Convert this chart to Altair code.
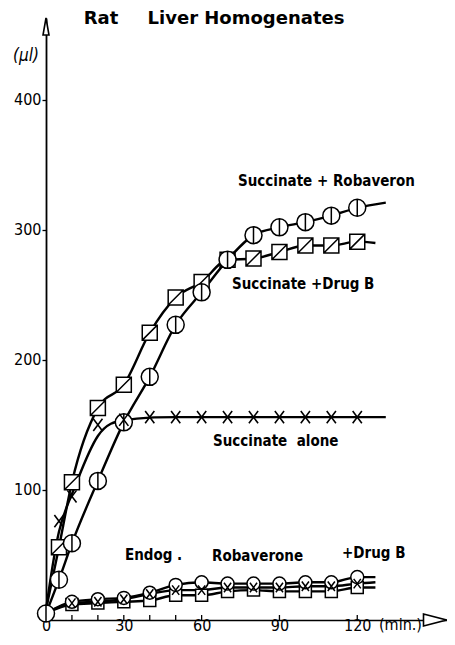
import altair as alt
import pandas as pd

# ---- data ----
t_main = [0, 5, 10, 20, 30, 40, 50, 60, 70, 80, 90, 100, 110, 120]
succ_robaveron = [5, 31, 59, 107, 152, 187, 227, 252, 277, 296, 302, 306, 311, 317]
succ_drugB = [8, 56, 106, 163, 181, 221, 248, 260, 277, 278, 283, 288, 288, 291]
succ_alone = [8, 76, 95, 150, 154, 156, 156, 156, 156, 156, 156, 156, 156, 156]

t_low = [0, 10, 20, 30, 40, 50, 60, 70, 80, 90, 100, 110, 120]
endog = [5, 13, 14, 16, 20, 23, 23, 25, 25, 25, 26, 26, 28]
robaverone = [5, 14, 16, 17, 21, 27, 29, 28, 28, 28, 29, 29, 33]
drugB = [5, 12, 13, 14, 15, 19, 19, 22, 23, 22, 22, 22, 25]

# where each drawn curve stops (beyond its last point)
curve_end_t = {"succ_robaveron": 131, "succ_drugB": 127, "succ_alone": 131,
               "endog": 127, "robaverone": 127, "drugB": 127}
curve_end_v = {"succ_robaveron": 321, "succ_drugB": 290, "succ_alone": 156,
               "endog": 29, "robaverone": 33, "drugB": 25}
# curve starts that carry no symbol
no_marker_t0 = {"succ_drugB", "succ_alone", "endog", "robaverone", "drugB"}

x_ticks = [10, 20, 30, 40, 50, 60, 90, 120]
x_labels = [0, 30, 60, 90, 120]
y_labels = [100, 200, 300, 400]

series = {
    "succ_robaveron": (t_main, succ_robaveron),
    "succ_drugB": (t_main, succ_drugB),
    "succ_alone": (t_main, succ_alone),
    "endog": (t_low, endog),
    "robaverone": (t_low, robaverone),
    "drugB": (t_low, drugB),
}

rows = []
for name, (ts, vs) in series.items():
    for i, (t, v) in enumerate(zip(ts, vs)):
        rows.append({"s": name, "t": t, "v": v, "o": i,
                     "m": not (t == 0 and name in no_marker_t0)})
    rows.append({"s": name, "t": curve_end_t[name], "v": curve_end_v[name],
                 "o": len(ts), "m": False})
df = pd.DataFrame(rows)

W, H = 401, 602
FONT = "DejaVu Sans Condensed"

xs = alt.Scale(domain=[0, 154.6], nice=False, zero=False)
ys = alt.Scale(domain=[0, 463], nice=False, zero=False)

base = alt.Chart(df)

X = alt.X("t:Q", scale=xs, axis=alt.Axis(values=x_labels, title=None, grid=False, ticks=False,
          labelPadding=10, labelBaseline="alphabetic", labelFontSize=16, labelFont=FONT,
          labelColor="black", domainColor="black", domainWidth=1.6, labelFlush=False))
Y = alt.Y("v:Q", scale=ys, axis=alt.Axis(values=y_labels, title=None, grid=False, tickSize=4,
          tickColor="black", tickWidth=1.3, labelPadding=1, labelFontSize=16, labelFont=FONT,
          labelColor="black", domainColor="black", domainWidth=1.8))


def line(names, interp):
    return base.transform_filter(alt.FieldOneOfPredicate(field="s", oneOf=names)).mark_line(
        color="black", strokeWidth=2.4, interpolate=interp).encode(x=X, y=Y, detail="s:N", order="o:Q")


def markers(name, shape, size, fill="white", sw=1.5):
    return base.transform_filter(
        (alt.datum.s == name) & (alt.datum.m == True)).mark_point(
        shape=shape, size=size, fill=fill, filled=False, stroke="black", strokeWidth=sw,
        opacity=1, fillOpacity=1).encode(x=X, y=Y)


CIRCLE_BAR = "M0,-1A1,1,0,1,1,0,1A1,1,0,1,1,0,-1Z M0,-1L0,1"
CIRCLE = "M0,-1A1,1,0,1,1,0,1A1,1,0,1,1,0,-1Z"
SQUARE_DIAG = "M-1,-1L1,-1L1,1L-1,1Z M-1,1L1,-1"
SQUARE = "M-1,-1L1,-1L1,1L-1,1Z"
XMARK = "M-0.75,-1L0.75,1 M-0.75,1L0.75,-1"

lines = alt.layer(
    line(["succ_robaveron", "succ_drugB", "endog", "robaverone", "drugB"], "monotone"),
    line(["succ_alone"], "basis"),
)

ticks_df = pd.DataFrame({"t": x_ticks})
xticks = alt.Chart(ticks_df).mark_rule(color="black", strokeWidth=1.3).encode(
    x=alt.X("t:Q", scale=xs), y=alt.value(H), y2=alt.value(H - 5))


def label(text, x, y, size=15, align="left", style="normal", weight="bold",
          font=FONT, baseline="middle"):
    return alt.Chart(pd.DataFrame({"a": [0]})).mark_text(
        text=text, font=font, fontSize=size, align=align, baseline=baseline,
        fontStyle=style, fontWeight=weight, color="black").encode(x=alt.value(x), y=alt.value(y))


arrow_x = alt.Chart(pd.DataFrame({"a": [0]})).mark_point(
    shape="M-1,-0.52L1,0L-1,0.52Z", size=529, fill="white", filled=False, stroke="black",
    strokeWidth=1.6, opacity=1, fillOpacity=1).encode(x=alt.value(W - 12), y=alt.value(H))
arrow_y = alt.Chart(pd.DataFrame({"a": [0]})).mark_point(
    shape="M-0.35,1L0,-1L0.35,1Z", size=289, fill="white", filled=False, stroke="black",
    strokeWidth=1.6, opacity=1, fillOpacity=1).encode(x=alt.value(0), y=alt.value(8.5))

chart = alt.layer(
    lines,
    xticks,
    markers("succ_drugB", SQUARE_DIAG, 225),
    markers("succ_robaveron", CIRCLE_BAR, 289),
    markers("succ_alone", XMARK, 150, fill="none", sw=1.6),
    markers("drugB", SQUARE, 144),
    markers("robaverone", CIRCLE, 169),
    markers("endog", XMARK, 90, fill="none", sw=1.5),
    arrow_x,
    arrow_y,
    label("Rat", 55, 1, size=18, align="center", font="DejaVu Sans"),
    label("Liver Homogenates", 200, 1, size=18, align="center", font="DejaVu Sans"),
    label("(\u03bcl)", -20, 38, size=17, align="center", style="italic", weight="normal"),
    label("Succinate + Robaveron", 192, 163),
    label("Succinate +Drug B", 186, 266),
    label("Succinate\u00a0 alone", 167, 423),
    label("Endog .", 79, 537),
    label("Robaverone", 166, 538),
    label("+Drug B", 296, 535),
    label("(min.)", 333, 612, size=16, weight="normal", baseline="alphabetic"),
).properties(
    width=W, height=H,
    autosize=alt.AutoSizeParams(type="none"),
    padding={"left": 38, "top": 10, "right": 0, "bottom": 15},
).configure_view(stroke=None)

chart.save("out.html", embed_options={"renderer": "svg", "actions": False})
